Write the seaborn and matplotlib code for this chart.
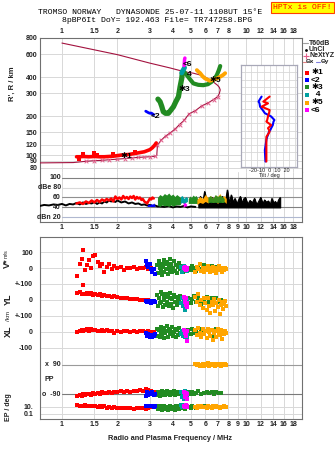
import numpy as np
import pandas as pd
import matplotlib
matplotlib.use("Agg")
import matplotlib.pyplot as plt
import seaborn as sns
from matplotlib.ticker import NullLocator

sns.set_theme(style="white")
plt.rcParams['font.family'] = ['Liberation Sans', 'DejaVu Sans']

# ---------------- data ----------------
freq_ticks_top = [1, 1.5, 2, 3, 4, 5, 6, 7, 8, 10, 12, 14, 16, 18]
freq_ticks = [1, 1.5, 2, 3, 4, 5, 6, 7, 8, 9, 10, 12, 14, 16, 18]
height_ticks = [80, 90, 100, 120, 150, 200, 300, 400, 600, 800]

# real-height profile (f MHz, h km)
prof_f = [0.76, 1.15, 1.35, 1.5, 1.65, 1.8, 2.0, 2.2, 2.4, 2.6, 2.8, 3.0, 3.22, 3.27,
          3.3, 3.45, 3.65, 3.86, 4.1, 4.35, 4.6, 4.9, 5.3, 5.75, 6.2, 6.65, 7.0,
          7.15, 7.23, 7.15, 7.0, 6.5, 5.8, 5.17, 4.76, 4.47, 3.86, 3.0, 2.0, 1.0]
prof_h = [87, 87.5, 89.5, 90.5, 91, 92, 93, 94, 95, 96, 96.5, 97, 98, 99,
          119, 130, 140, 148, 158, 172, 185, 208, 220, 240, 252, 268, 282,
          298, 318, 333, 345, 375, 410, 428, 436, 445, 470, 512, 595, 731]
nexyz_f = [1.35, 1.5, 1.65, 1.8, 2.0, 2.2, 2.4, 2.6, 2.8, 3.0, 3.22, 3.3, 3.45, 3.65,
           3.86, 4.1, 4.35, 4.6, 4.9, 5.3, 5.75, 6.2, 6.65, 7.0]
nexyz_h = [89.5, 90.5, 91, 92, 93, 94, 95, 96, 96.5, 97, 98, 119, 130, 140,
           148, 158, 172, 185, 208, 220, 240, 252, 268, 282]

# virtual-height echo traces
tr1_f = [1.2, 1.25, 1.3, 1.4, 1.5, 1.6, 1.7, 1.8, 1.9, 2.0, 2.1, 2.2, 2.3, 2.4, 2.5,
         2.6, 2.7, 2.8, 2.9, 3.0, 3.05, 3.1, 3.15, 3.2, 3.25]
tr1_h = [97, 97, 97.5, 97, 97.5, 97, 97, 97.5, 98, 99, 100, 100.5, 101, 102, 103,
         104, 105, 106, 108, 110, 112, 114, 117, 120, 124]
tr1x_f = [1.23, 1.3, 1.5, 1.55, 1.9, 2.5]
tr1x_h = [94, 101, 104, 100, 102, 106]
tr2_f = [2.85, 2.95, 3.0, 3.05, 3.1, 3.15]
tr2_h = [218, 212, 210, 211, 208, 205]
tr3a_f = [3.32, 3.41, 3.48, 3.55, 3.65, 3.78, 3.9, 4.03, 4.15, 4.29, 4.38, 4.47, 4.51]
tr3a_h = [270, 258, 238, 216, 210, 210, 222, 236, 258, 282, 337, 390, 439]
tr3b_f = [4.6, 4.76, 4.95, 5.17, 5.5, 5.86, 6.2, 6.5, 6.75, 6.93, 7.1, 7.23]
tr3b_h = [440, 414, 385, 357, 348, 346, 352, 368, 390, 414, 450, 486]
tr4_f = [4.47, 4.52, 4.58, 4.63]
tr4_h = [430, 445, 460, 472]
tr5_f = [5.4, 5.5, 5.63, 5.8, 5.98, 6.35, 6.77, 7.0, 7.23, 7.5, 7.69]
tr5_h = [452, 440, 428, 405, 390, 374, 384, 392, 402, 415, 428]
tr6_f = [4.6, 4.62, 4.63, 4.65]
tr6_h = [490, 520, 545, 560]

# tilt inset (deg vs real height)
tilt_h = [282, 258, 250, 236, 222, 210, 198, 186, 181, 170, 161, 156, 151, 143, 138, 131, 116, 109, 89]
tilt_x = [-0.3, -7.3, -2.1, -9.2, -0.3, -1.0, -2.1, -3.0, -3.9, 1.4, -2.1, -1.0, -0.3, -2.5, -3.9, -3.9, -3.9, -3.9, -3.9]
tilt_y = [-9.2, -12.6, -11.5, -10.9, -8.0, -5.6, 1.4, 5.0, 4.0, 3.2, 1.4, 0.5, -1.0, -2.1, -3.0, -3.9, -5.0, -5.6, -4.9]

# amplitude panel (dB)
noise_f = [0.76, 0.8, 0.85, 0.9, 0.95, 1.0, 1.05, 1.1, 1.15, 1.2, 1.25, 1.3, 1.35, 1.4, 1.45,
           1.5, 1.55, 1.6, 1.65, 1.7, 1.75, 1.8, 1.85, 1.9, 1.95, 2.0, 2.1, 2.2, 2.3, 2.4,
           2.5, 2.6, 2.7, 2.8, 2.9, 3.0, 3.1, 3.2, 3.3, 3.4, 3.6, 3.8, 4.0, 4.2, 4.4, 4.6,
           4.8, 5.0, 5.3]
noise_db = [43, 45, 44, 46, 45, 47, 44, 47, 46, 49, 46, 50, 47, 49, 48,
            51, 47, 50, 48, 52, 50, 54, 52, 53, 51, 54, 50, 52, 48, 50,
            47, 48, 45, 46, 44, 45, 43, 44, 42, 42, 41, 43, 40, 42, 41, 43,
            40, 42, 41]
spike_f = [5.5, 5.65, 5.8, 5.95, 6.1, 6.25, 6.4, 6.55, 6.7, 6.85, 7.0, 7.15, 7.3, 7.45, 7.6,
           7.75, 7.9, 8.1, 8.3, 8.5, 8.7, 8.9, 9.1, 9.3, 9.5, 9.7, 9.9, 10.2, 10.5, 10.8,
           11.1, 11.4, 11.7, 12.0, 12.3, 12.6, 12.9, 13.2, 13.5, 13.8, 14.1, 14.4, 14.7, 15.0, 15.3]
spike_db = [50, 62, 48, 72, 52, 58, 47, 60, 50, 56, 45, 58, 50, 62, 46,
            55, 75, 48, 65, 50, 58, 46, 55, 62, 48, 57, 60, 46, 54, 49,
            58, 45, 52, 60, 47, 55, 50, 53, 45, 58, 48, 52, 46, 55, 60]
amp1_f = [1.2, 1.25, 1.3, 1.35, 1.4, 1.45, 1.5, 1.55, 1.6, 1.65, 1.7, 1.75, 1.8, 1.85, 1.9,
          1.95, 2.0, 2.05, 2.1, 2.15, 2.2, 2.25, 2.3, 2.35, 2.4, 2.45, 2.5, 2.55, 2.6, 2.65,
          2.7, 2.75, 2.8, 2.85, 2.9, 2.95, 3.0, 3.05, 3.1, 3.15]
amp1_db = [48, 50, 47, 52, 49, 54, 50, 55, 51, 56, 53, 57, 54, 58, 52,
           62, 57, 60, 56, 63, 58, 61, 57, 62, 59, 63, 56, 61, 58, 60,
           55, 57, 52, 50, 48, 53, 58, 56, 60, 58]
amp2_f = [2.9, 2.95, 3.0, 3.05, 3.1, 3.15, 3.2]
amp2_hi = [44, 47, 45, 48, 46, 49, 44]
amp3_f = [3.3, 3.4, 3.5, 3.6, 3.7, 3.8, 3.9, 4.0, 4.1, 4.2, 4.3, 4.4]
amp3_hi = [60, 66, 63, 68, 65, 69, 64, 67, 62, 66, 63, 60]
amp3_lo = [44, 42, 45, 43, 44, 42, 45, 43, 44, 46, 45, 46]
amp4_f = [4.4, 4.5, 4.6, 4.7, 4.8]
amp4_hi = [62, 64, 58, 62, 60]
amp4_lo = [48, 50, 47, 50, 52]
amp6_f = [4.55, 4.6, 4.65, 4.7, 4.75]
amp6_hi = [50, 48, 51, 47, 49]
amp6_lo = [42, 41, 43, 42, 44]
amp3b_f = [4.85, 4.95, 5.05, 5.15, 5.25, 5.35, 5.45]
amp3b_hi = [58, 63, 60, 65, 62, 64, 58]
amp3c_f = [6.2, 6.4, 6.6, 6.8, 7.0, 7.2, 7.4, 7.6]
amp3c_hi = [60, 64, 58, 66, 62, 65, 62, 58]
amp5_f = [5.4, 5.6, 5.8, 6.0, 6.2, 6.4, 6.6, 6.8, 7.0, 7.2, 7.4, 7.6, 7.8]
amp5_hi = [56, 62, 58, 66, 60, 64, 58, 65, 62, 68, 60, 64, 58]
amp5_lo = [46, 50, 48, 52, 49, 53, 50, 52, 48, 54, 50, 52, 48]

# echo parameters: V* (m/s), YL, XL (km), PP (deg), EP (deg)
p1_f = [1.20, 1.25, 1.28, 1.30, 1.33, 1.36, 1.40, 1.44, 1.48, 1.52, 1.56, 1.60, 1.65, 1.70, 1.75,
        1.80, 1.86, 1.92, 2.00, 2.08, 2.16, 2.25, 2.35, 2.45, 2.55, 2.65, 2.75, 2.85, 2.95, 3.05, 3.15]
p1_v = [-45, 30, 60, 112, -10, 20, 50, 5, 75, 85, 40, 15, 30, -20, 10,
        25, -5, 15, 0, 10, -8, 5, 0, 10, -5, 3, 0, 6, -2, 4, -3]
p1_yl = [45, 50, 40, 94, 38, 42, 35, 45, 30, 40, 32, 35, 28, 30, 25,
         28, 20, 22, 18, 15, 12, 10, 8, 5, 5, 2, 0, -2, 0, -5, -8]
p1_xl = [0, 5, 8, 3, 10, 15, 5, 20, 10, 8, 5, 3, 8, 5, 10,
         2, 5, -5, 3, 0, 5, 2, 0, 5, -3, 2, 5, 0, 3, -2, 0]
p1_pp = [-105, -95, -100, -90, -98, -92, -88, -95, -85, -90, -84, -88, -80, -86, -82,
         -78, -84, -76, -80, -74, -78, -72, -76, -70, -72, -66, -70, -62, -65, -70, -75]
p1_ep = [22, 18, 20, 15, 22, 18, 12, 20, 15, 18, 10, 14, 8, 12, 6,
         9, 5, 7, 4, 6, 5, 4, 6, 3, 5, 4, 6, 3, 5, 8, 10]
p2_f = [2.85, 2.9, 2.95, 3.0, 3.05, 3.1, 3.15, 3.2]
p2_v = [45, 20, 10, 25, -5, -20, -5, -35]
p2_yl = [-5, -10, -15, -8, -20, -12, -5, -15]
p2_xl = [-10, -25, -15, -30, -20, -35, -25, -15]
p2_pp = [-100, -80, -95, -85, -90, -75, -95, -88]
p2_ep = [15, 20, 12, 18, 15, 20, 10, 14]
p3_f = [3.30, 3.33, 3.36, 3.40, 3.43, 3.46, 3.50, 3.53, 3.57, 3.60, 3.64, 3.68, 3.72, 3.76, 3.80,
        3.84, 3.88, 3.92, 3.96, 4.00, 4.05, 4.10, 4.15, 4.20, 4.25, 4.30, 4.38, 4.46, 4.55, 4.65,
        4.85, 5.0, 5.1, 5.2, 5.35, 5.5, 5.7, 5.9, 6.1, 6.3, 6.5, 6.7, 6.9, 7.1, 7.3]
p3_v = [20, -30, 45, 0, -15, 30, -40, 10, 55, -20, 25, -5, 40, -35, 15,
        60, -10, 30, -25, 5, 45, -15, 20, -30, 10, 35, -5, 15, -20, 10,
        5, -10, 15, 0, -15, 10, -5, 20, -10, 5, 15, -5, 10, 0, -8]
p3_yl = [30, -40, 15, -20, 50, -10, 35, -45, 0, 25, -30, 40, -15, 20, -35,
         10, 45, -25, 5, -50, 30, -10, 20, -30, 15, -5, 25, -20, 10, -15,
         10, -20, 5, 25, -10, 15, -25, 5, 20, -15, 10, -5, 15, -10, 0]
p3_xl = [20, -25, 10, -35, 30, 0, -20, 15, -40, 25, -10, 5, 35, -30, 10,
         -15, 20, -5, 30, -25, 0, 15, -35, 10, -20, 25, -10, 5, -15, 0,
         10, -15, 20, -5, 5, -20, 15, -10, 5, 10, -25, 0, 15, -5, 10]
p3_pp = [-75, -95, -85, -100, -80, -90, -70, -95, -85, -78, -98, -88, -72, -92, -84,
         -76, -96, -86, -80, -90, -74, -94, -82, -88, -78, -92, -84, -80, -90, -86,
         -76, -88, -80, -92, -84, -74, -90, -82, -78, -86, -80, -88, -76, -84, -82]
p3_ep = [8, 3, 12, 2, 6, 15, 1.5, 9, 4, 18, 2.5, 7, 11, 1.2, 5,
         14, 3, 8, 2, 10, 6, 1.5, 12, 4, 9, 2.5, 16, 5, 7, 3,
         10, 6, 14, 8, 5, 12, 9, 15, 7, 11, 6, 13, 8, 10, 9]
p4_f = [4.45, 4.5, 4.55, 4.6, 4.65, 4.7, 4.75, 4.8]
p4_v = [10, -20, 0, 15, -10, 5, -15, 0]
p4_yl = [-20, 10, -40, -10, -60, -30, 0, -25]
p4_xl = [-15, 5, -25, 0, -30, -10, -45, -20]
p4_pp = [-80, -110, -90, -120, -70, -100, -85, -95]
p4_ep = [25, 10, 30, 8, 20, 12, 15, 18]
p6_f = [4.6, 4.63, 4.66, 4.7, 4.73, 4.76, 4.8]
p6_v = [5, -5, 10, 0, -10, 5, -3]
p6_yl = [20, -10, 0, -30, 10, -20, -45]
p6_xl = [10, -5, 0, -15, -25, 5, -60]
p6_pp = [-75, -95, -110, -85, -100, -120, -90]
p6_ep = [15, 20, 8, 25, 12, 18, 10]
p5_f = [5.3, 5.4, 5.5, 5.6, 5.7, 5.8, 5.9, 6.0, 6.1, 6.2, 6.3, 6.4, 6.5, 6.6, 6.7,
        6.8, 6.9, 7.0, 7.1, 7.2, 7.3, 7.4, 7.5, 7.6, 7.7, 7.8]
p5_v = [-20, 10, -5, 30, -15, 5, -25, 0, -10, 15, -5, -20, 0, 10, -15,
        5, -30, -5, 15, -10, 0, -20, 5, -10, 0, -5]
p5_yl = [20, -10, 40, -30, 0, -50, 15, -20, -60, 10, -40, -80, -15, -30, 5,
         -70, -20, -45, 0, -90, -30, -10, -55, -25, -5, -40]
p5_xl = [10, -20, 25, -5, -35, 15, -15, 5, -40, 20, 0, -25, 10, -50, -10,
         5, -30, 15, -5, -20, 10, -45, 0, -15, 5, -10]
p5_pp = [95, 88, 100, 85, 92, 98, 86, 94, 90, 102, 87, 96, 89, 93, 99,
         84, 91, 97, 88, 95, 86, 92, 100, 89, 94, 90]
p5_ep = [10, 6, 12, 8, 15, 9, 7, 11, 6, 13, 8, 10, 5, 12, 9,
         7, 14, 8, 10, 6, 11, 9, 7, 12, 8, 10]

# ---------------- style ----------------
RED, BLUE, GREEN = '#ff0000', '#0000ff', '#228b22'
CYAN, ORANGE, MAGENTA = '#00a0a0', '#ffa500', '#ff00ff'
PROF, PINK = '#a3123f', '#e2608c'
GRID, FRAME, TXT = '#d8d8d8', '#707070', '#222222'
W, H = 335, 451
XL_ = (0.76, 20.1)

fig = plt.figure(figsize=(W / 100, H / 100), dpi=100)
fig.patch.set_facecolor('white')


def ax_at(x0, y0, x1, y1):
    return fig.add_axes([x0 / W, 1 - y1 / H, (x1 - x0) / W, (y1 - y0) / H])


def ftxt(x, y, s, **kw):
    kw.setdefault('color', TXT)
    kw.setdefault('fontsize', 5)
    return fig.text(x / W, 1 - y / H, s, **kw)


def freq_axis(ax, ticks, where):
    ax.set_xscale('log')
    ax.set_xlim(*XL_)
    ax.xaxis.set_minor_locator(NullLocator())
    ax.set_xticks(ticks)
    ax.set_xticklabels([('%g' % t) for t in ticks], fontsize=5, color=TXT, fontweight='bold')
    if where == 'top':
        ax.xaxis.tick_top()
    ax.tick_params(axis='x', length=0, pad=1.5)
    ax.tick_params(axis='y', length=0, pad=2)
    for t in ticks:
        ax.axvline(t, color=GRID, lw=0.7, zorder=0)
    for s in ax.spines.values():
        s.set_color(FRAME)
        s.set_linewidth(0.8)


# ---------------- top panel: heights ----------------
ax = ax_at(40, 37.5, 302, 172)
freq_axis(ax, freq_ticks_top, 'top')
ax.set_yscale('log')
ax.set_ylim(74, 807)
ax.yaxis.set_minor_locator(NullLocator())
ax.set_yticks(height_ticks)
ax.set_yticklabels([str(t) for t in height_ticks], fontsize=5, color=TXT, fontweight='bold')
for t in height_ticks:
    ax.axhline(t, color=GRID, lw=0.7, zorder=0)
ax.spines['bottom'].set_visible(False)

sns.lineplot(x=prof_f, y=prof_h, sort=False, estimator=None, color=PROF, lw=0.8, ax=ax, zorder=3)
sns.scatterplot(x=nexyz_f, y=nexyz_h, marker='x', s=7, color=PINK, linewidth=0.7, ax=ax, zorder=4)
sns.lineplot(x=tr1_f, y=tr1_h, sort=False, estimator=None, color=RED, lw=2.6, ax=ax, zorder=5)
sns.scatterplot(x=tr1x_f, y=tr1x_h, marker='s', s=5, color=RED, linewidth=0, ax=ax, zorder=5)
sns.lineplot(x=tr2_f, y=tr2_h, sort=False, estimator=None, color=BLUE, lw=2.0, ax=ax, zorder=5)
sns.lineplot(x=tr3a_f, y=tr3a_h, sort=False, estimator=None, color=GREEN, lw=3.8, ax=ax, zorder=5)
sns.lineplot(x=tr3b_f, y=tr3b_h, sort=False, estimator=None, color=GREEN, lw=3.0, ax=ax, zorder=5)
sns.lineplot(x=tr5_f, y=tr5_h, sort=False, estimator=None, color=ORANGE, lw=2.8, ax=ax, zorder=5)
sns.lineplot(x=tr4_f, y=tr4_h, sort=False, estimator=None, color=CYAN, lw=3.5, ax=ax, zorder=6)
sns.lineplot(x=tr6_f, y=tr6_h, sort=False, estimator=None, color=MAGENTA, lw=2.5, ax=ax, zorder=6)

lab_kw = dict(fontsize=6, color='black', fontweight='bold', zorder=8, va='center')
ax.text(2.23, 97, '✱1', ha='center', **lab_kw)
ax.text(3.22, 199, '<2', ha='center', **lab_kw)
ax.text(4.62, 322, '✱3', ha='center', **lab_kw)
ax.text(4.92, 420, '4', ha='center', **lab_kw)
ax.text(6.8, 379, '✱5', ha='center', **lab_kw)
ax.text(4.78, 497, '<6', ha='center', **lab_kw)

# tilt inset
axt = ax_at(241, 65, 297, 167)
axt.set_facecolor('white')
axt.set_xlim(-32, 30)
axt.set_yscale('log')
axt.set_ylim(80.8, 494)
axt.set_xticks([])
axt.set_yticks([])
axt.yaxis.set_minor_locator(NullLocator())
for gx in [-28, -21, -14, -7, 0, 7, 14, 21, 28]:
    axt.axvline(gx, color=GRID, lw=0.6, zorder=0)
for gy in np.geomspace(80.8, 494, 15)[1:-1]:
    axt.axhline(gy, color=GRID, lw=0.6, zorder=0)
for s in axt.spines.values():
    s.set_color('#a8a8b8')
    s.set_linewidth(0.9)
sns.lineplot(x=tilt_y, y=tilt_h, sort=False, estimator=None, color=BLUE, lw=1.5, ax=axt)
sns.lineplot(x=tilt_x, y=tilt_h, sort=False, estimator=None, color=RED, lw=1.5, ax=axt)
ftxt(269, 170.5, '-20-10  0  10  20', fontsize=4, ha='center', va='center')
ftxt(269, 176, 'Tilt / deg', fontsize=4, ha='center', va='center')

# ---------------- amplitude panel ----------------
axd = ax_at(40, 172, 302, 222)
freq_axis(axd, freq_ticks, 'bottom')
axd.set_ylim(10.6, 111.4)
axd.set_yticks([])
axd.spines['top'].set_visible(False)
for lvl, col in [(100, '#808080'), (80, GRID), (60, '#909090'), (40, '#808080'), (20, '#b0b8d0')]:
    axd.plot([1.0, XL_[1]], [lvl, lvl], color=col, lw=0.8, zorder=1)
for lvl, s in [(100, '100'), (80, 'dBe 80'), (60, '60'), (40, '40'), (20, 'dBn 20')]:
    axd.text(0.985, lvl, s, ha='right', va='center', fontsize=5, color=TXT, fontweight='bold', zorder=9)
sns.lineplot(x=noise_f, y=noise_db, sort=False, estimator=None, color='black', lw=1.4, ax=axd, zorder=3)
axd.fill_between(spike_f, 40, spike_db, color='black', lw=0.8, zorder=3)
sns.lineplot(x=spike_f, y=spike_db, sort=False, estimator=None, color='black', lw=0.8, ax=axd, zorder=3)
sns.lineplot(x=amp1_f, y=amp1_db, sort=False, estimator=None, color=RED, lw=1.8, ax=axd, zorder=4)
axd.fill_between(amp2_f, 42, amp2_hi, color=BLUE, lw=0, zorder=4)
axd.fill_between(amp3_f, amp3_lo, amp3_hi, color=GREEN, lw=0, zorder=4)
axd.fill_between(amp3b_f, 48, amp3b_hi, color=GREEN, lw=0, zorder=4)
axd.fill_between(amp5_f, amp5_lo, amp5_hi, color=ORANGE, lw=0, zorder=4)
axd.fill_between(amp3c_f, 50, amp3c_hi, color=GREEN, lw=0, zorder=4, alpha=0.9)
axd.fill_between(amp4_f, amp4_lo, amp4_hi, color=CYAN, lw=0, zorder=5)
axd.fill_between(amp6_f, amp6_lo, amp6_hi, color=MAGENTA, lw=0, zorder=6)

# ---------------- echo parameter panel ----------------
axb = ax_at(40, 236.5, 302, 419)
freq_axis(axb, freq_ticks, 'bottom')
axb.set_ylim(419, 236.5)
OFF_V, OFF_YL, OFF_XL, OFF_PP = 268.3, 300.0, 331.7, 379.5
SC = 0.16
ytick_pos = [252.3, 268.3, 284.0, 300.0, 316.0, 331.7, 347.7, 406.7, 414.0]
ytick_lab = ['100', '0', '+-100', '0', '+-100', '0', '-100', '10.', '0.1']
axb.set_yticks(ytick_pos)
axb.set_yticklabels(ytick_lab, fontsize=5, color=TXT, fontweight='bold')
axb.tick_params(axis='y', pad=5)
for p in ytick_pos:
    axb.axhline(p, color=GRID, lw=0.7, zorder=0)
axb.plot([1.0, XL_[1]], [365, 365], color='#9a9a9a', lw=0.8, zorder=1)
axb.plot([1.0, XL_[1]], [394, 394], color='#7a7a7a', lw=0.8, zorder=1)
axb.text(0.985, 365, 'x  90', ha='right', va='center', fontsize=5, color=TXT, fontweight='bold')
axb.text(0.80, 379.5, 'PP', ha='left', va='center', fontsize=5, color=TXT, fontweight='bold')
axb.text(0.985, 394, 'o  -90', ha='right', va='center', fontsize=5, color=TXT, fontweight='bold')

traces = [
    (p3_f, p3_v, p3_yl, p3_xl, p3_pp, p3_ep, GREEN),
    (p1_f, p1_v, p1_yl, p1_xl, p1_pp, p1_ep, RED),
    (p2_f, p2_v, p2_yl, p2_xl, p2_pp, p2_ep, BLUE),
    (p5_f, p5_v, p5_yl, p5_xl, p5_pp, p5_ep, ORANGE),
    (p4_f, p4_v, p4_yl, p4_xl, p4_pp, p4_ep, CYAN),
    (p6_f, p6_v, p6_yl, p6_xl, p6_pp, p6_ep, MAGENTA),
]
for f, v, yl, xl, pp, ep, col in traces:
    df = pd.DataFrame({'f': f, 'v': v, 'yl': yl, 'xl': xl, 'pp': pp, 'ep': ep})
    df['y_v'] = OFF_V - SC * df['v']
    df['y_yl'] = OFF_YL - SC * df['yl']
    df['y_xl'] = OFF_XL - SC * df['xl']
    df['y_pp'] = OFF_PP - SC * df['pp']
    df['y_ep'] = 406.7 - 3.65 * np.log10(df['ep'] / 10.0)
    for c in ['y_v', 'y_yl', 'y_xl', 'y_pp', 'y_ep']:
        sns.scatterplot(data=df, x='f', y=c, color=col, marker='s', s=5.5, linewidth=0,
                        ax=axb, zorder=4, legend=False)
axb.set_xlabel('')
axb.set_ylabel('')

# axis labels
ftxt(12, 84, "R', R / km", rotation=90, ha='center', va='center', fontsize=5.5, fontweight='bold')
ftxt(7, 263, 'V*', rotation=90, ha='center', va='center', fontsize=6.5, fontweight='bold')
ftxt(6, 253.5, 'm/s', rotation=90, ha='center', va='center', fontsize=4)
ftxt(8, 299, 'YL', rotation=90, ha='center', va='center', fontsize=6.5, fontweight='bold')
ftxt(8, 316, '/km', rotation=90, ha='center', va='center', fontsize=4.5)
ftxt(8, 331, 'XL', rotation=90, ha='center', va='center', fontsize=6.5, fontweight='bold')
ftxt(8, 407, 'EP / deg', rotation=90, ha='center', va='center', fontsize=5, fontweight='bold')
ftxt(170, 439, 'Radio and Plasma Frequency / MHz', ha='center', va='center', fontsize=5.3, fontweight='bold')

# title
mono = ['Liberation Mono', 'DejaVu Sans Mono']
ftxt(150, 12, 'TROMSO NORWAY   DYNASONDE 25-07-11 1108UT 15°E', ha='center', va='center',
     fontsize=5.9, family=mono, color='black')
ftxt(157.5, 20.5, '8pBP6It DoY= 192.463 File= TR747258.BPG', ha='center', va='center',
     fontsize=5.9, family=mono, color='black')
ftxt(302.5, 7.3, 'HPTx is OFF!', ha='center', va='center', fontsize=5.9, family=mono, color='#ff0000',
     bbox=dict(facecolor='#ffff00', edgecolor='#ff4000', boxstyle='square,pad=0.25', lw=0.8))

# legend
axl = ax_at(302, 37, 335, 115)
axl.set_xlim(302, 335)
axl.set_ylim(115, 37)
axl.axis('off')
axl.plot([303, 308], [43.3, 43.3], color='#a0a0a0', lw=0.8)
axl.plot([305.5], [49.5], marker='.', ms=2, color='black')
axl.plot([305.5], [55.5], marker='+', ms=4, color=PINK, mew=0.8)
axl.plot([302.5, 305.5], [61.7, 61.7], color='#e08080', lw=0.8)
axl.plot([316, 320], [61.7, 61.7], color='#8080e0', lw=0.8)
lt = dict(fontsize=5, color=TXT, va='center', ha='left', fontweight='bold')
axl.text(309, 43.3, 'T60dB', **lt)
axl.text(309, 49.5, 'UnCl', **lt)
axl.text(309, 55.5, 'NeXtYZ', **lt)
axl.text(305.8, 61.7, 'Θx', **dict(lt, fontsize=4.5))
axl.text(320.5, 61.7, 'Θy', **dict(lt, fontsize=4.5))
for yy, col, s in [(72.7, RED, '✱1'), (80, BLUE, '<2'), (87.3, GREEN, '✱3'),
                   (95, CYAN, '  4'), (102.7, ORANGE, '✱5'), (110, MAGENTA, '<6')]:
    axl.plot([306.5], [yy], marker='s', ms=2.6, color=col, mew=0)
    axl.text(311, yy, s, fontsize=6, color='black', va='center', ha='left', fontweight='bold')

fig.savefig('out.png', dpi=100, facecolor='white')
